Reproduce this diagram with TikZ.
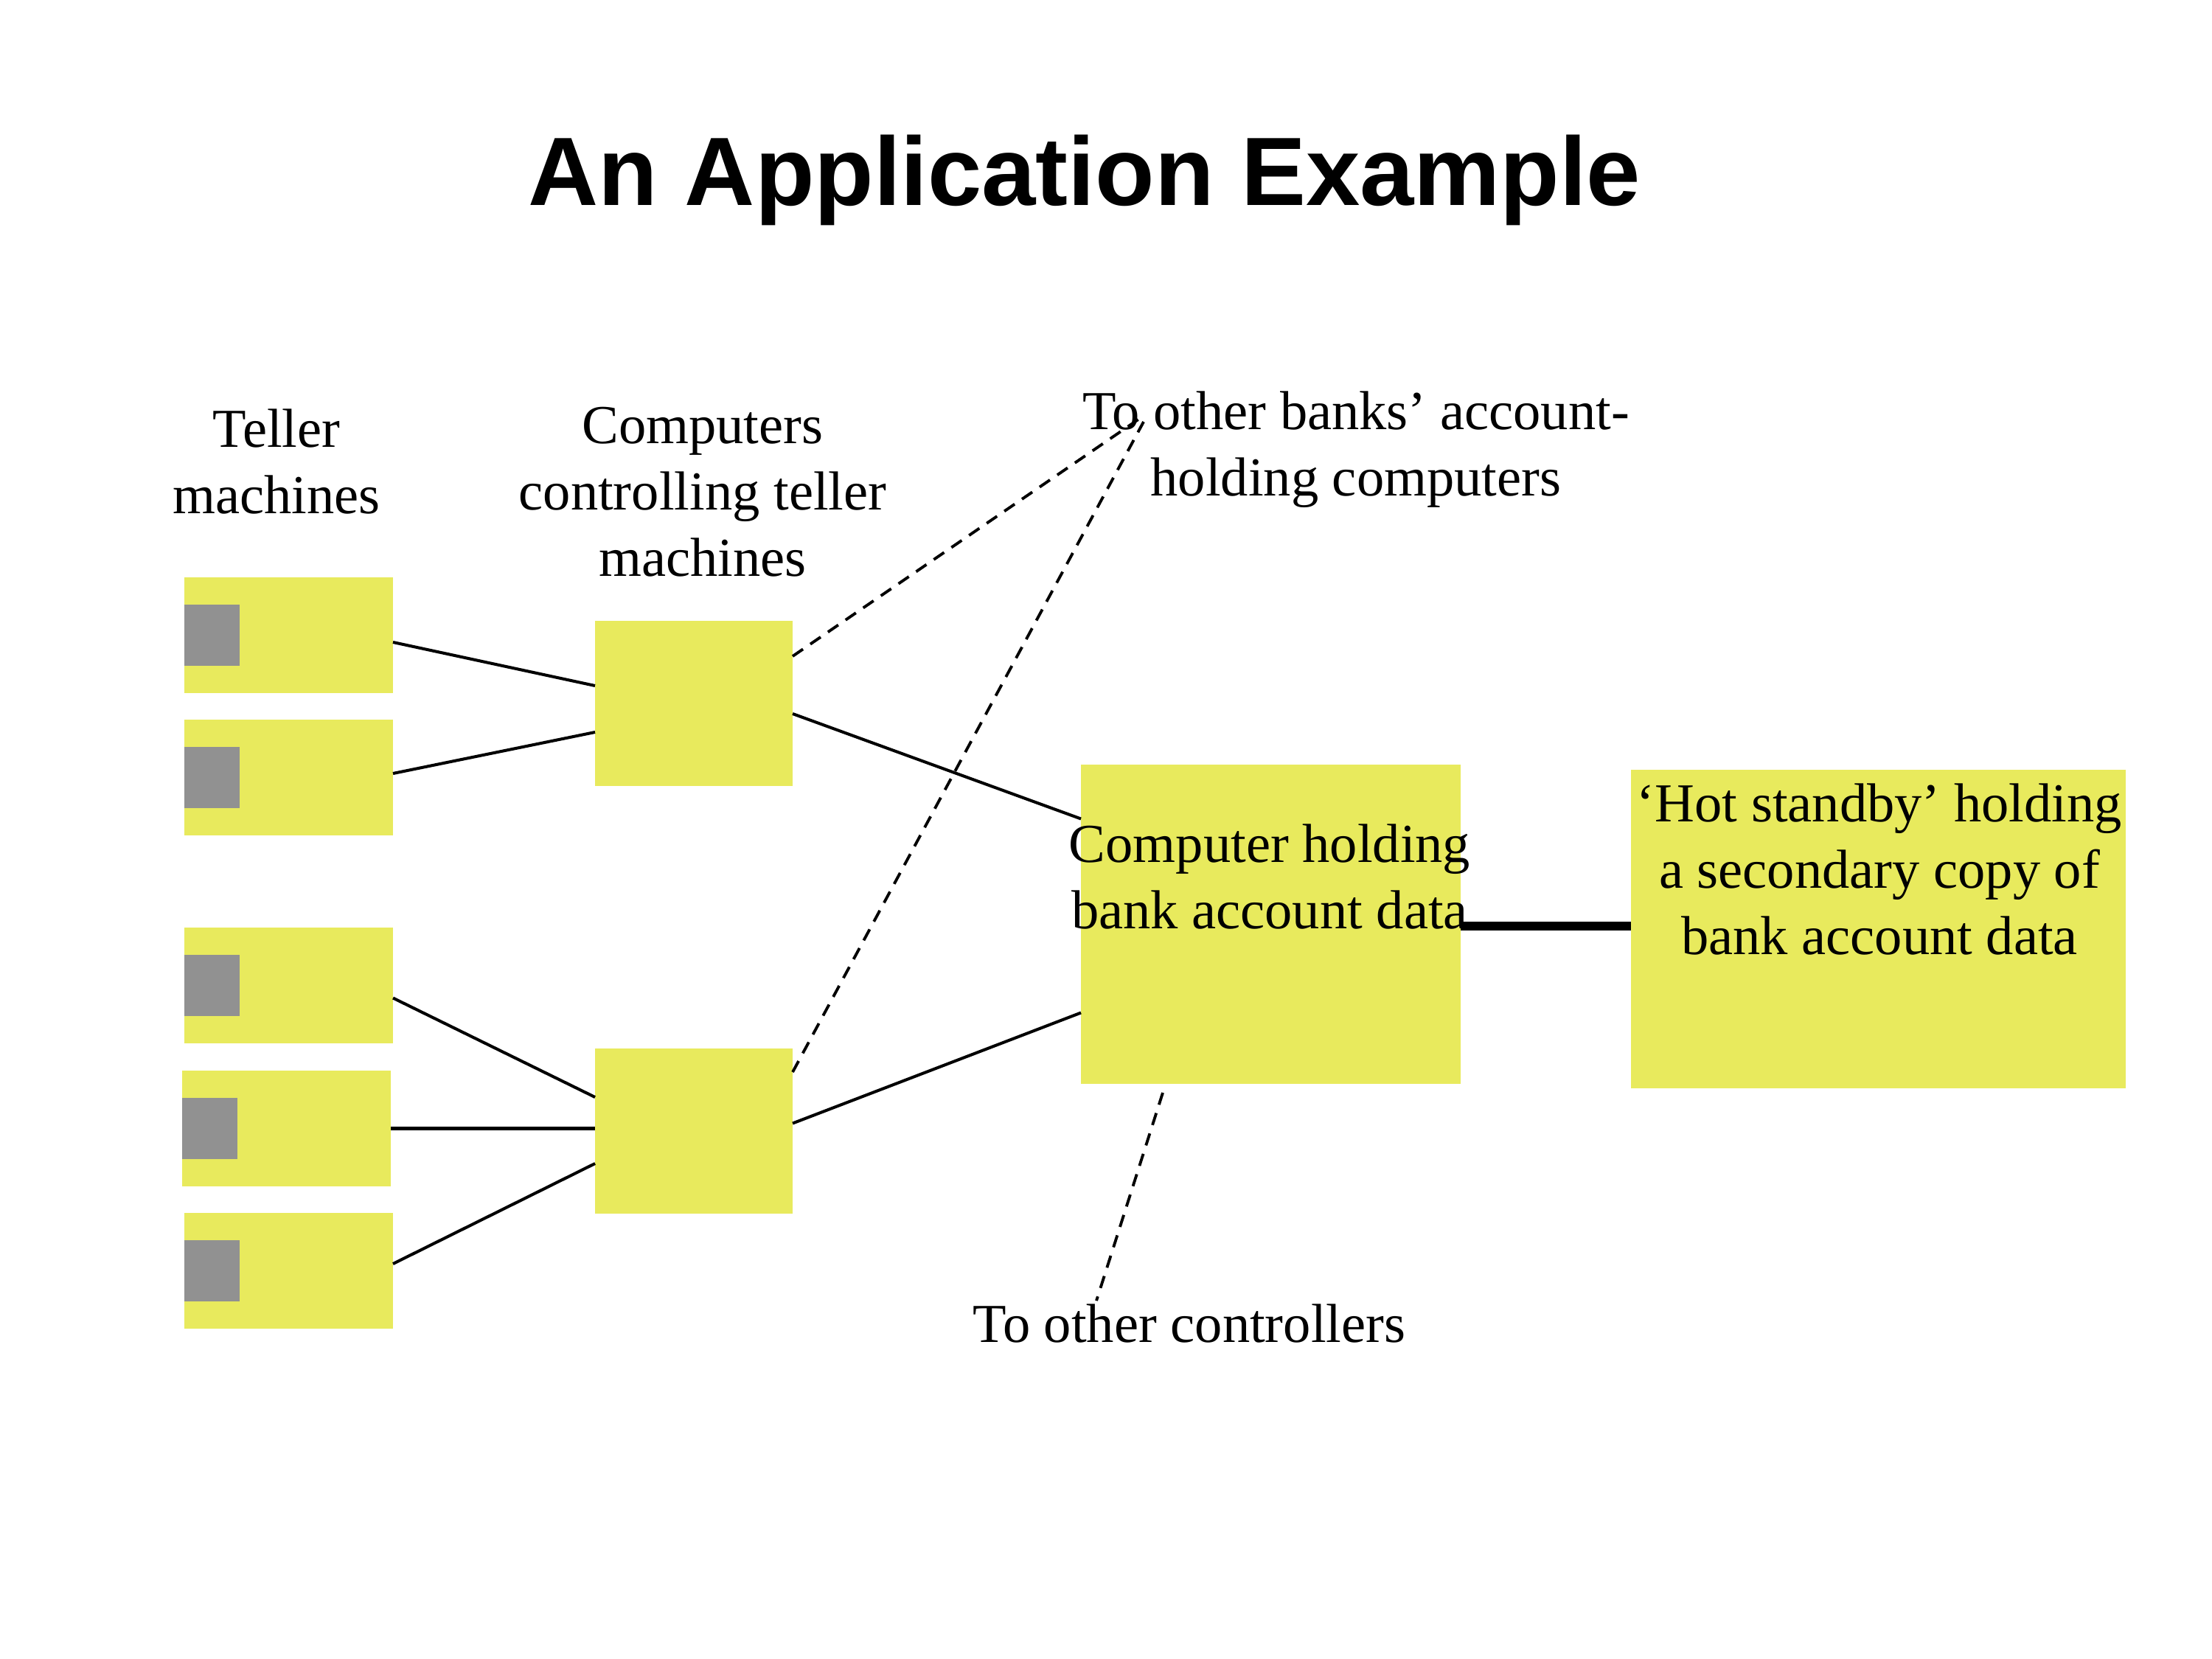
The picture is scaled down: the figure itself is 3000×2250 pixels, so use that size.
\documentclass[tikz,border=0pt]{standalone}
\usepackage{fontspec}
\setmainfont{Liberation Serif}
\newfontfamily\headfont{Liberation Sans}
\usetikzlibrary{calc}
\definecolor{boxyellow}{RGB}{232,234,93}
\definecolor{screengray}{RGB}{145,145,145}

\begin{document}
\begin{tikzpicture}[x=0.1mm,y=-0.1mm,
  unit/.style={fill=boxyellow, draw=none, inner sep=0pt, outer sep=0pt},
  teller/.style={unit, minimum width=28.3mm, minimum height=15.7mm},
  screen/.style={fill=screengray, draw=none, inner sep=0pt, outer sep=0pt,
                 minimum width=7.5mm, minimum height=8.3mm, anchor=west},
  ctrl/.style={unit, minimum width=26.8mm, minimum height=22.4mm},
  link/.style={line width=1.15pt},
  remote/.style={line width=1.1pt, dash pattern=on 1.7mm off 1.2mm},
  backup/.style={line width=1.2mm},
  label/.style={font=\fontsize{21.2}{25.6}\selectfont, align=center,
                anchor=base, inner sep=0pt}]

% page
\fill[white] (0,0) rectangle (3000,2250);

% title
\node[font=\headfont\bfseries\fontsize{37.5}{45}\selectfont, anchor=base,
      inner sep=0pt] (title) at (1471,279) {An Application Example};

% teller machines, each with its screen
\node[teller] (t1) at (391.5,861.5) {};
\node[teller] (t2) at (391.5,1054.5) {};
\node[teller] (t3) at (391.5,1336.5) {};
\node[teller] (t4) at (388.5,1530.5) {};
\node[teller] (t5) at (391.5,1723.5) {};
\node[screen] (s1) at (t1.west) {};
\node[screen] (s2) at (t2.west) {};
\node[screen] (s3) at (t3.west) {};
\node[screen] (s4) at (t4.west) {};
\node[screen] (s5) at (t5.west) {};

% controllers
\node[ctrl] (c1) at (941,954) {};
\node[ctrl] (c2) at (941,1533.5) {};

% account computer and its hot standby
\node[unit, minimum width=51.5mm, minimum height=43.3mm] (main) at (1723.5,1253.5) {};
\node[unit, minimum width=67.1mm, minimum height=43.2mm] (sb) at (2547.5,1260) {};

% free ends of the outgoing links
\coordinate (banks1) at (1548,566);
\coordinate (banks2) at (1551,572);
\coordinate (others) at (1487,1764);

% tellers to controllers
\draw[link] ([yshift=-0.95mm]t1.east) -- ([yshift=2.4mm]c1.west);
\draw[link] ([yshift=0.55mm]t2.east) -- ([yshift=-3.9mm]c1.west);
\draw[link] ([yshift=-1.7mm]t3.east) -- ([yshift=4.55mm]c2.west);
\draw[link] (t4.east) -- (t4.east -| c2.west);
\draw[link] ([yshift=0.95mm]t5.east) -- ([yshift=-4.45mm]c2.west);

% controllers to account computer
\draw[link] ([yshift=-1.4mm]c1.east) -- ([yshift=14.3mm]main.west);
\draw[link] ([yshift=1mm]c2.east) -- ([yshift=-12mm]main.west);

% links to other sites
\draw[remote] ([yshift=6.4mm]c1.east) -- (banks1);
\draw[remote] ([yshift=7.95mm]c2.east) -- (banks2);
\draw[remote] ([xshift=-14.65mm,yshift=-1.2mm]main.south) -- (others);

% standby link
\coordinate (hsA) at ([yshift=-0.25mm]main.east);
\draw[backup] (hsA) -- (hsA -| sb.west);

% labels (base anchor sits on the last line)
\node[label] (lteller) at (375,696) {Teller\\machines};
\node[label] (lctrl) at (953,781) {Computers\\controlling teller\\machines};
\node[label] (lbanks) at (1839,672) {To other banks’ account-\\holding computers};
\node[label] (lmain) at (1722,1259) {Computer holding\\bank account data};
\node[label] (lsb) at (2549,1294) {‘Hot standby’ holding\\a secondary copy of\\bank account data};
\node[label] (lothers) at (1613,1820) {To other controllers};
\end{tikzpicture}
\end{document}
